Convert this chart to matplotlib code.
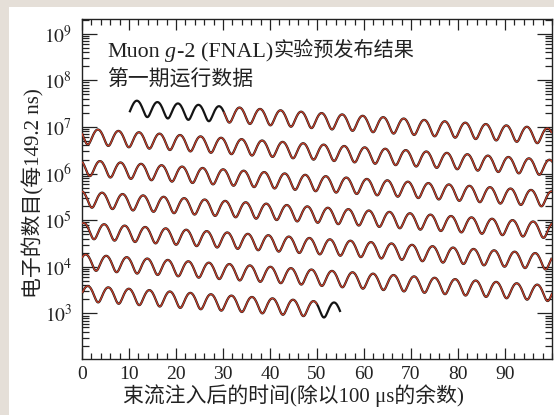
import numpy as np
import matplotlib.pyplot as plt
from matplotlib.ticker import FuncFormatter, LogLocator, MultipleLocator, NullFormatter
from matplotlib.patches import Rectangle

plt.rcParams['font.family'] = ['Liberation Serif', 'Noto Sans CJK SC']
plt.rcParams['mathtext.fontset'] = 'stix'

n0 = 3.2e7           # counts per bin at t = 0
tau = 64.4           # dilated muon lifetime (us)
asym = 0.37          # wiggle amplitude
period = 4.367       # g-2 precession period (us)
t_peak = 11.7        # first wiggle maximum (us)
bin_width = 0.1492   # us

data_range = [10.2, 655.0]
fit_range = [30.2, 650.0]
wrap = 100.0
n_rows = 7

x_ticks = [0, 10, 20, 30, 40, 50, 60, 70, 80, 90]
y_ticks = [1e3, 1e4, 1e5, 1e6, 1e7, 1e8, 1e9]


def wiggle(t):
    return n0 * np.exp(-t / tau) * (1 + asym * np.cos(2 * np.pi * (t - t_peak) / period))


fig = plt.figure(figsize=(5.54, 4.15), dpi=100, facecolor='#e5dfd8')
fig.add_artist(Rectangle((9 / 554, 0), 1, 1 - 7 / 415, transform=fig.transFigure,
                         facecolor='white', edgecolor='none', zorder=-10))
ax = fig.add_axes([82 / 554, 1 - 359 / 415, 470 / 554, 340 / 415])

t_data = np.arange(data_range[0], data_range[1], bin_width)
t_fit = np.arange(fit_range[0], fit_range[1], bin_width)

# one row per 100 us, time taken modulo 100 us
for k in range(n_rows):
    lo, hi = k * wrap, (k + 1) * wrap
    m = (t_data >= lo) & (t_data < hi)
    ax.plot(t_data[m] - lo, wiggle(t_data[m]), color='#141414', lw=1.6, zorder=2)
    m = (t_fit >= lo) & (t_fit < hi)
    ax.plot(t_fit[m] - lo, wiggle(t_fit[m]), color='#c8402a', lw=0.9, zorder=3)

ax.set_yscale('log')
ax.set_xlim(0, 100)
ax.set_ylim(105, 2.07e9)

ax.set_xticks(x_ticks)
ax.xaxis.set_minor_locator(MultipleLocator(2))
ax.set_yticks(y_ticks)
ax.yaxis.set_minor_locator(LogLocator(base=10, subs=np.arange(2, 10), numticks=20))
ax.yaxis.set_major_formatter(FuncFormatter(lambda v, p: r'$10^{%d}$' % round(np.log10(v))))
ax.yaxis.set_minor_formatter(NullFormatter())

ax.tick_params(which='both', direction='in', top=True, right=True, width=0.9,
               labelsize=14, colors='#222222')
ax.tick_params(axis='x', which='major', length=8, pad=5)
ax.tick_params(axis='x', which='minor', length=4)
ax.tick_params(axis='y', which='major', length=11, pad=7)
ax.tick_params(axis='y', which='minor', length=5)
for s in ax.spines.values():
    s.set_linewidth(1.0)
    s.set_color('#222222')

ax.set_xlabel('束流注入后的时间(除以100 μs的余数)', fontsize=15, color='#222222')
ax.set_ylabel('电子的数目(每149.2 ns)', fontsize=15, color='#222222')
ax.xaxis.set_label_coords(211 / 470, -25 / 340)
ax.yaxis.set_label_coords(-38 / 470, 166 / 340)

# title lines; "g" is italic, so the first line is built from pieces
ink = '#222222'
t1 = fig.text(107 / 554, 1 - 57 / 415, 'Muon', fontsize=15.8, va='baseline', color=ink)
t2 = ax.annotate('g', xy=(1, 0), xycoords=t1, xytext=(4.0, 0), textcoords='offset points',
                 fontsize=15.8, style='italic', va='bottom', color=ink)
t3 = ax.annotate('-2 (FNAL)', xy=(1, 0), xycoords=t2, xytext=(0.5, 0),
                 textcoords='offset points', fontsize=15.8, va='bottom', color=ink)
ax.annotate('实验预发布结果', xy=(1, 0), xycoords=t3, xytext=(0, 0.6),
            textcoords='offset points', fontsize=14.5, va='bottom', color=ink)
fig.text(107 / 554, 1 - 86 / 415, '第一期运行数据', fontsize=15, va='baseline', color=ink)

fig.savefig('out.png', dpi=100, facecolor=fig.get_facecolor())
